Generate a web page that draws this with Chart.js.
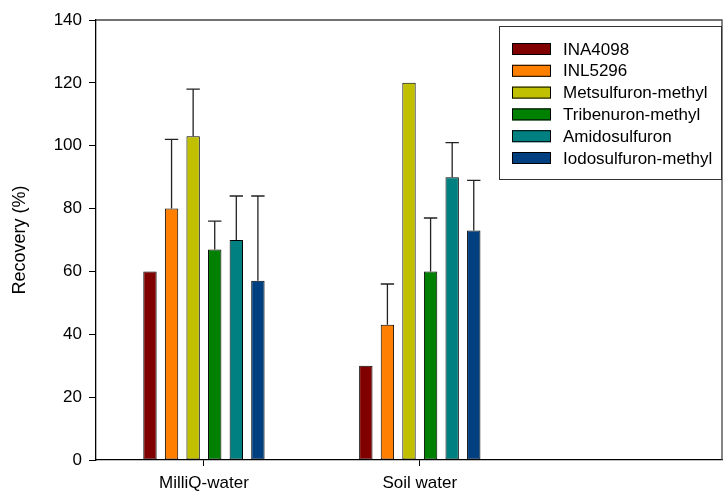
<!DOCTYPE html>
<html>
<head>
<meta charset="utf-8">
<script src="https://cdn.jsdelivr.net/npm/chart.js@4"></script>
<style>
  html, body { margin: 0; padding: 0; background: #fff; }
  #wrap { width: 724px; height: 494px; }
</style>
</head>
<body>
<div id="wrap"><canvas id="chart" width="724" height="494"></canvas></div>
<script>
// data
const categories = ['MilliQ-water', 'Soil water'];
const seriesNames = ['INA4098', 'INL5296', 'Metsulfuron-methyl', 'Tribenuron-methyl', 'Amidosulfuron', 'Iodosulfuron-methyl'];
const seriesColors = ['#800000', '#ff8000', '#c0c000', '#008000', '#008080', '#004080'];
const milliQ = [60, 80, 103, 67, 70, 57];
const milliQErr = [0, 22, 15, 9, 14, 27];
const soilWater = [30, 43, 120, 60, 90, 73];
const soilWaterErr = [0, 13, 0, 17, 11, 16];
const yTicks = [0, 20, 40, 60, 80, 100, 120, 140];

const groupValues = [milliQ, soilWater];
const groupErrors = [milliQErr, soilWaterErr];
const FONT = "'Liberation Sans', Arial, sans-serif";

const datasets = seriesNames.map((name, j) => ({
    label: name,
    data: categories.map((c, i) => ({ x: i + 1, y: groupValues[i][j] })),
    errors: categories.map((c, i) => groupErrors[i][j]),
    backgroundColor: seriesColors[j],
    borderColor: '#000',
    borderWidth: 1,
    borderSkipped: false,
    categoryPercentage: 0.6,
    barPercentage: 0.62
}));

const errorBars = {
    id: 'errorBars',
    afterDatasetsDraw(chart) {
        const ctx = chart.ctx;
        const y = chart.scales.y;
        ctx.save();
        ctx.strokeStyle = '#222';
        ctx.lineWidth = 1.3;
        chart.data.datasets.forEach((ds, di) => {
            const meta = chart.getDatasetMeta(di);
            meta.data.forEach((bar, i) => {
                const err = ds.errors[i];
                if (!err) return;
                const top = y.getPixelForValue(ds.data[i].y + err);
                const half = bar.width / 2;
                ctx.beginPath();
                ctx.moveTo(bar.x, bar.y);
                ctx.lineTo(bar.x, top);
                ctx.moveTo(bar.x - half, top);
                ctx.lineTo(bar.x + half, top);
                ctx.stroke();
            });
        });
        ctx.restore();
    }
};

const frameAndLegend = {
    id: 'frameAndLegend',
    afterDraw(chart) {
        const ctx = chart.ctx;
        const a = chart.chartArea;
        ctx.save();
        // top and right frame
        ctx.strokeStyle = '#444';
        ctx.lineWidth = 1.3;
        ctx.beginPath();
        ctx.moveTo(a.left, a.top);
        ctx.lineTo(a.right, a.top);
        ctx.lineTo(a.right, a.bottom);
        ctx.stroke();

        // legend box
        const bx = 499.5, by = 26.5, bw = 222, bh = 153;
        ctx.fillStyle = '#fff';
        ctx.fillRect(bx, by, bw, bh);
        ctx.strokeStyle = '#333';
        ctx.lineWidth = 1;
        ctx.strokeRect(bx, by, bw, bh);

        ctx.font = '17px ' + FONT;
        ctx.textBaseline = 'middle';
        ctx.textAlign = 'left';
        chart.data.datasets.forEach((ds, j) => {
            const cy = 49 + j * 21.8;
            ctx.fillStyle = ds.backgroundColor;
            ctx.fillRect(512, cy - 6, 39, 12);
            ctx.strokeStyle = '#000';
            ctx.strokeRect(512.5, cy - 5.5, 38, 11);
            ctx.fillStyle = '#000';
            ctx.fillText(ds.label, 563, cy + 1);
        });
        ctx.restore();
    }
};

new Chart(document.getElementById('chart').getContext('2d'), {
    type: 'bar',
    data: { datasets: datasets },
    plugins: [errorBars, frameAndLegend],
    options: {
        responsive: false,
        animation: false,
        layout: { padding: { top: 20, right: 2, left: 0, bottom: 0 } },
        plugins: {
            legend: { display: false },
            tooltip: { enabled: false }
        },
        scales: {
            x: {
                type: 'linear',
                min: 0.5,
                max: 3.4,
                offset: false,
                afterBuildTicks: (axis) => {
                    axis.ticks = categories.map((c, i) => ({ value: i + 1 }));
                },
                afterFit: (axis) => { axis.height = 34; },
                grid: {
                    offset: false,
                    drawOnChartArea: false,
                    drawTicks: true,
                    tickLength: 6,
                    color: '#000'
                },
                border: { color: '#000', width: 1.3 },
                ticks: {
                    autoSkip: false,
                    maxRotation: 0,
                    padding: 7,
                    color: '#000',
                    font: { family: FONT, size: 17 },
                    callback: (v) => categories[v - 1] || ''
                }
            },
            y: {
                min: 0,
                max: 140,
                afterBuildTicks: (axis) => {
                    axis.ticks = yTicks.map(v => ({ value: v }));
                },
                afterFit: (axis) => { axis.width = 96; },
                grid: {
                    drawOnChartArea: false,
                    drawTicks: true,
                    tickLength: 7,
                    color: '#000'
                },
                border: { color: '#000', width: 1.3 },
                ticks: {
                    padding: 7,
                    color: '#000',
                    font: { family: FONT, size: 17 }
                },
                title: {
                    display: true,
                    text: 'Recovery (%)',
                    color: '#000',
                    font: { family: FONT, size: 18 },
                    padding: { top: 9, bottom: 0 }
                }
            }
        }
    }
});
</script>
</body>
</html>
